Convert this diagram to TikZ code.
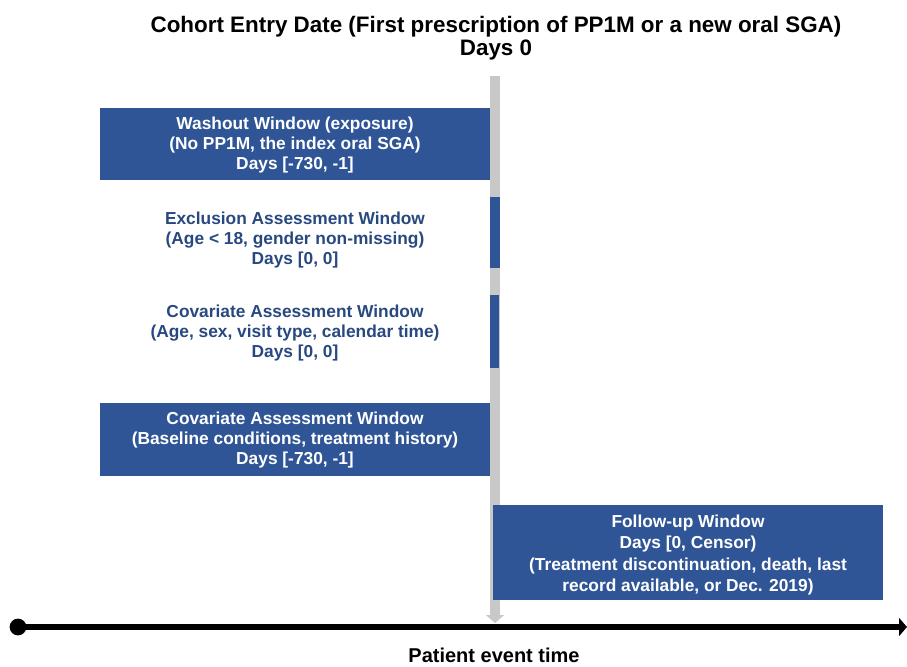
\documentclass[tikz,border=0pt]{standalone}
\usepackage{fontspec}
\setmainfont{Liberation Sans}
\usetikzlibrary{arrows.meta}
\definecolor{boxblue}{RGB}{47,85,151}
\definecolor{bargray}{RGB}{200,200,200}
\begin{document}
\begin{tikzpicture}[x=0.75pt,y=-0.75pt,
  wintext/.style={font=\bfseries\fontsize{13}{14.8}\selectfont,align=center,inner sep=0pt},
  ttl/.style={font=\bfseries\fontsize{16.8}{17}\selectfont,align=center,inner sep=0pt}]
\useasboundingbox (0,0) rectangle (907,667);
% title
\node[ttl] (title) at (496,38) {Cohort Entry Date (First prescription of PP1M or a new oral SGA)\\Days 0};
% gray day-0 line
\coordinate (top) at (495,76);
\coordinate (axhit) at (495,623);
\draw[bargray,line width=7.5pt,-{Triangle[width=13.5pt,length=6pt]}] (top) -- (axhit);
% washout box
\path[fill=boxblue] (100,108) rectangle (490,180);
\node[wintext,text=white] (wash) at (295,145) {Washout Window (exposure)\\(No PP1M, the index oral SGA)\\Days [-730, -1]};
% exclusion
\path[fill=boxblue] (490,197) rectangle (500,268);
\node[wintext,text=boxblue!85!black] (excl) at (295,240) {Exclusion Assessment Window\\(Age {<} 18, gender non-missing)\\Days [0, 0]};
% covariate 1
\path[fill=boxblue] (490,295) rectangle (499,368);
\node[wintext,text=boxblue!85!black] (cov1) at (295,333) {Covariate Assessment Window\\(Age, sex, visit type, calendar time)\\Days [0, 0]};
% covariate 2
\path[fill=boxblue] (100,403) rectangle (490,476);
\node[wintext,text=white] (cov2) at (295,440) {Covariate Assessment Window\\(Baseline conditions, treatment history)\\Days [-730, -1]};
% follow-up
\path[fill=boxblue] (493,505) rectangle (883,600);
\node[wintext,text=white,font=\bfseries\fontsize{13}{15.9}\selectfont] (fu) at (688,555) {Follow-up Window\\Days [0, Censor)\\(Treatment discontinuation, death, last\\record available, or Dec. 2019)};
% axis
\coordinate (axl) at (18,627);
\coordinate (axr) at (907,627);
\fill[black] (axl) circle (6.3pt);
\draw[black,line width=4.5pt,-{Triangle[width=13.5pt,length=6pt]}] (axl) -- (axr);
\node[font=\bfseries\fontsize{15}{17}\selectfont] (pet) at (494,655) {Patient event time};
\end{tikzpicture}
\end{document}
